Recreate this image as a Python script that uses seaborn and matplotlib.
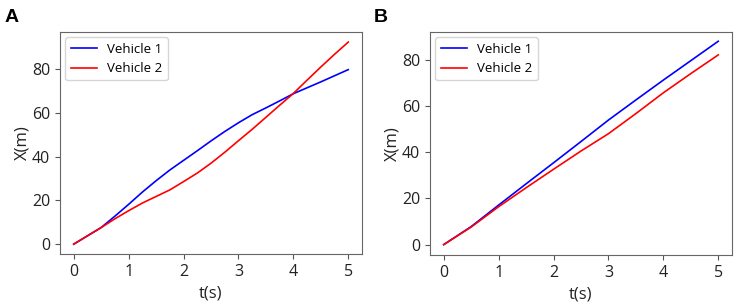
import matplotlib
matplotlib.use("Agg")
import matplotlib.pyplot as plt
import seaborn as sns
import pandas as pd

# Data
a_t = [0, 0.25, 0.5, 0.75, 1, 1.25, 1.5, 1.75, 2, 2.25, 2.5, 2.75, 3,
       3.25, 3.5, 3.75, 4, 4.25, 4.5, 4.75, 5]
a_vehicle1 = [0, 3.8, 7.6, 12.8, 18.2, 23.8, 29.0, 33.9, 38.3, 42.7, 47.2,
              51.5, 55.5, 59.2, 62.3, 65.5, 68.8, 71.5, 74.2, 77.0, 79.8]
a_vehicle2 = [0, 3.8, 7.6, 11.6, 15.3, 18.8, 21.8, 24.8, 28.6, 32.5, 37.0,
              42.0, 47.3, 52.5, 58.0, 63.5, 68.9, 75.0, 81.0, 86.8, 92.4]
b_t = [0, 0.5, 1, 1.5, 2, 2.5, 3, 3.5, 4, 4.5, 5]
b_vehicle1 = [0, 7.8, 17.1, 26.3, 35.4, 44.6, 53.9, 62.6, 71.2, 79.6, 88.0]
b_vehicle2 = [0, 7.6, 16.4, 24.6, 32.6, 40.5, 48.0, 56.7, 65.7, 74.0, 82.1]
series_names = ["Vehicle 1", "Vehicle 2"]
xticks = [0, 1, 2, 3, 4, 5]
yticks = [0, 20, 40, 60, 80]
panel_labels = ["A", "B"]

plt.rcParams["font.family"] = ["Open Sans", "DejaVu Sans"]

def make_df(tt, v1, v2):
    return pd.DataFrame({
        "t": list(tt) + list(tt),
        "x": list(v1) + list(v2),
        "vehicle": [series_names[0]] * len(tt) + [series_names[1]] * len(tt),
    })

fig = plt.figure(figsize=(7.4, 3.08), dpi=100)
W, H = 740, 308
axA = fig.add_axes([60 / W, 1 - 254 / H, 302 / W, 222 / H])
axB = fig.add_axes([430 / W, 1 - 255 / H, 302 / W, 223 / H])

palette = {series_names[0]: "#0000ff", series_names[1]: "#ff0000"}

for ax, df in [(axA, make_df(a_t, a_vehicle1, a_vehicle2)),
               (axB, make_df(b_t, b_vehicle1, b_vehicle2))]:
    sns.lineplot(data=df, x="t", y="x", hue="vehicle", palette=palette,
                 ax=ax, linewidth=1.2, estimator=None)
    ax.set_xticks(xticks)
    ax.set_yticks(yticks)
    ax.set_xlim(-0.25, 5.25)
    ax.tick_params(labelsize=11.5, colors="#555555", labelcolor="#222222",
                   length=3.5, width=0.8)
    ax.set_xlabel("t(s)", fontsize=12, color="#222222", labelpad=4)
    ax.set_ylabel("X(m)", fontsize=12, color="#222222", labelpad=1)
    for s in ax.spines.values():
        s.set_color("#666666")
    leg = ax.legend(loc="upper left", fontsize=9.5, frameon=True,
                    handlelength=2.0, borderaxespad=0.4)
    leg.set_title(None)

axA.set_ylim(-4.5, 97)
axB.set_ylim(-4.5, 92)

fig.text(5 / W, 1 - 22 / H, panel_labels[0], fontsize=14, fontweight="bold",
         family="Liberation Sans")
fig.text(374 / W, 1 - 22 / H, panel_labels[1], fontsize=14, fontweight="bold",
         family="Liberation Sans")

fig.savefig("out.png", dpi=100)
